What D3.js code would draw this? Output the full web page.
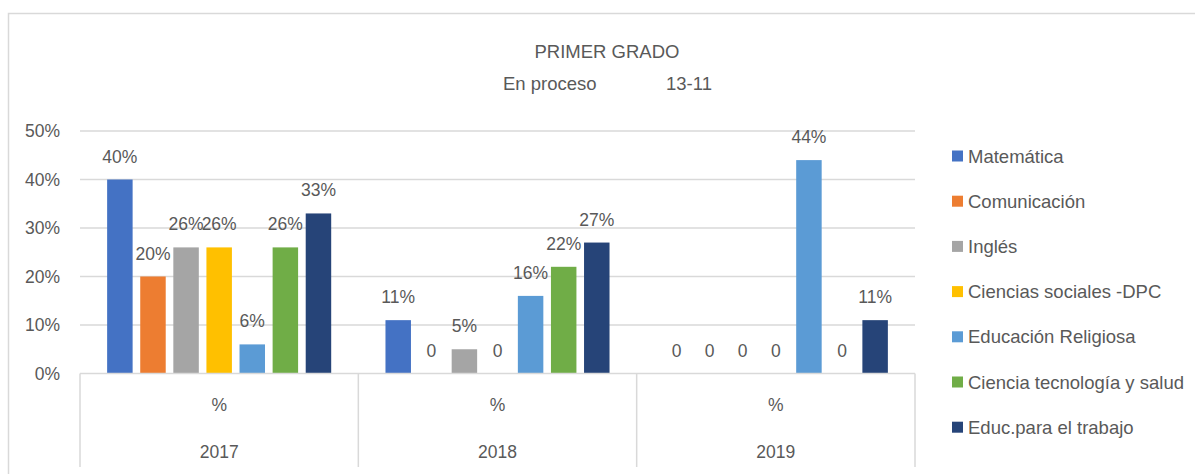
<!DOCTYPE html>
<html>
<head>
<meta charset="utf-8">
<script src="https://cdn.jsdelivr.net/npm/d3@7"></script>
<style>
  body { margin: 0; background: #fff; }
  text { font-family: "Liberation Sans", Arial, sans-serif; fill: #595959; }
</style>
</head>
<body>
<div id="container"></div>
<script>
// chart data
var years = ["2017", "2018", "2019"];
var subjects = ["Matemática", "Comunicación", "Inglés", "Ciencias sociales -DPC",
	"Educación Religiosa", "Ciencia tecnología y salud", "Educ.para el trabajo"];
var colors = ["#4472C4", "#ED7D31", "#A5A5A5", "#FFC000", "#5B9BD5", "#70AD47", "#264478"];
// values per subject, one per year (percent)
var values = [
	[40, 11, 0],
	[20, 0, 0],
	[26, 5, 0],
	[26, 0, 0],
	[6, 16, 44],
	[26, 22, 0],
	[33, 27, 11]
];
var yTicks = [0, 10, 20, 30, 40, 50];

var W = 1195, H = 474;
var svg = d3.select("#container").append("svg")
	.attr("width", W).attr("height", H);

// outer frame
svg.append("rect")
	.attr("x", 8.5).attr("y", 13.5)
	.attr("width", W + 10).attr("height", H)
	.attr("fill", "none").attr("stroke", "#d9d9d9").attr("stroke-width", 1.5);

// titles
svg.append("text").attr("x", 607).attr("y", 58)
	.attr("text-anchor", "middle").style("font-size", "18.5px")
	.text("PRIMER GRADO");
svg.append("text").attr("x", 503).attr("y", 90)
	.style("font-size", "18.5px").text("En proceso");
svg.append("text").attr("x", 712).attr("y", 90)
	.attr("text-anchor", "end").style("font-size", "18.5px").text("13-11");

var plotLeft = 80, plotRight = 915, plotTop = 131, plotBottom = 373.5;

var x0 = d3.scaleBand().domain(years).range([plotLeft, plotRight]);
var x1 = d3.scaleBand().domain(d3.range(subjects.length))
	.range([0, x0.bandwidth()]).paddingInner(0.23).paddingOuter(0.82);
var y = d3.scaleLinear().domain([0, 50]).range([plotBottom, plotTop]);

// gridlines
svg.append("g").selectAll("line").data(yTicks.slice(1)).enter().append("line")
	.attr("x1", plotLeft).attr("x2", plotRight)
	.attr("y1", d => y(d)).attr("y2", d => y(d))
	.attr("stroke", "#d9d9d9").attr("stroke-width", 1.5);

// y axis labels
svg.append("g").selectAll("text").data(yTicks).enter().append("text")
	.attr("x", 60).attr("y", d => y(d) + 6)
	.attr("text-anchor", "end").style("font-size", "17.5px")
	.text(d => d + "%");

// bars
var rows = [];
values.forEach((vals, s) => vals.forEach((v, i) => rows.push({s: s, year: years[i], v: v})));

svg.append("g").selectAll("rect").data(rows).enter().append("rect")
	.attr("x", d => x0(d.year) + x1(d.s))
	.attr("width", x1.bandwidth())
	.attr("y", d => y(d.v))
	.attr("height", d => y(0) - y(d.v))
	.attr("fill", d => colors[d.s]);

// data labels
svg.append("g").selectAll("text").data(rows).enter().append("text")
	.attr("x", d => x0(d.year) + x1(d.s) + x1.bandwidth() / 2)
	.attr("y", d => y(d.v) - 17)
	.attr("text-anchor", "middle").style("font-size", "17.5px")
	.text(d => d.v === 0 ? "0" : d.v + "%");

// category axis
svg.append("line").attr("x1", plotLeft).attr("x2", plotRight)
	.attr("y1", plotBottom).attr("y2", plotBottom)
	.attr("stroke", "#d9d9d9").attr("stroke-width", 1.5);
var bounds = years.map(d => x0(d)).concat([plotRight]);
svg.append("g").selectAll("line").data(bounds).enter().append("line")
	.attr("x1", d => d).attr("x2", d => d)
	.attr("y1", plotBottom).attr("y2", 467)
	.attr("stroke", "#d9d9d9").attr("stroke-width", 1.5);
svg.append("g").selectAll("text").data(years).enter().append("text")
	.attr("x", d => x0(d) + x0.bandwidth() / 2).attr("y", 411)
	.attr("text-anchor", "middle").style("font-size", "17.5px").text("%");
svg.append("g").selectAll("text").data(years).enter().append("text")
	.attr("x", d => x0(d) + x0.bandwidth() / 2).attr("y", 458)
	.attr("text-anchor", "middle").style("font-size", "17.5px").text(d => d);

// legend
var leg = svg.append("g").selectAll("g").data(subjects).enter().append("g")
	.attr("transform", (d, i) => "translate(952," + (156 + i * 45.2) + ")");
leg.append("rect").attr("x", 0).attr("y", -5.5).attr("width", 11).attr("height", 11)
	.attr("fill", (d, i) => colors[i]);
leg.append("text").attr("x", 16).attr("y", 6.5)
	.style("font-size", "18.5px").text(d => d);
</script>
</body>
</html>
